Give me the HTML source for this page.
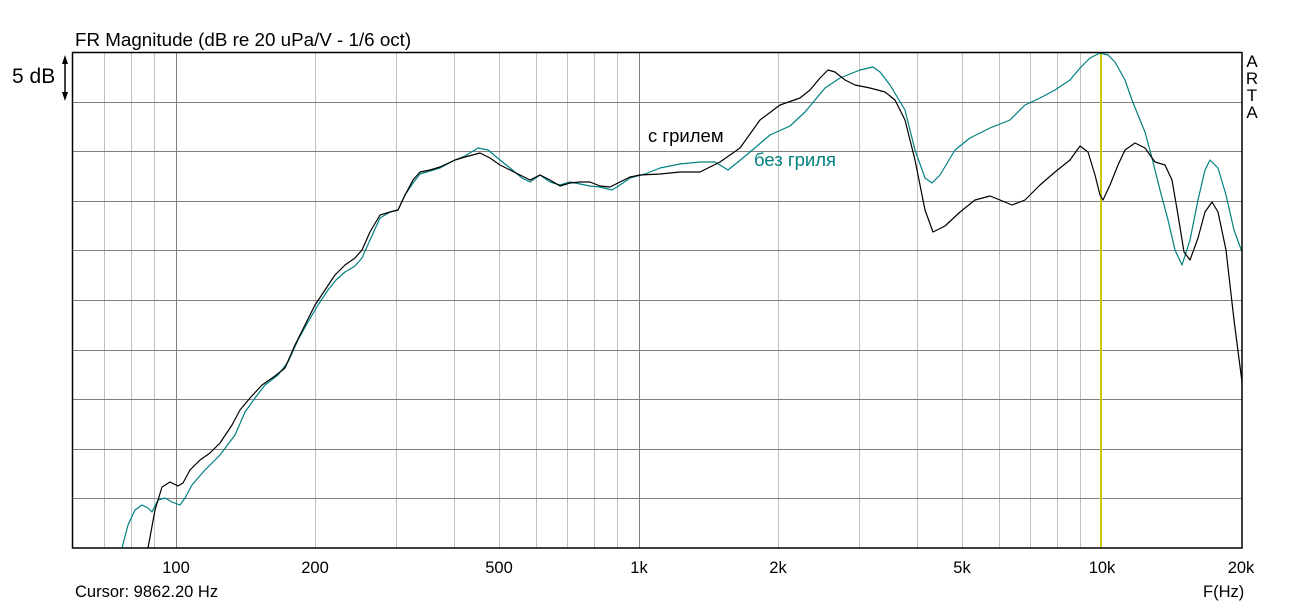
<!DOCTYPE html>
<html><head><meta charset="utf-8"><style>
html,body{margin:0;padding:0;background:#fff;}
svg{display:block;font-family:"Liberation Sans",sans-serif;}
</style></head><body>
<svg width="1314" height="605" viewBox="0 0 1314 605" xmlns="http://www.w3.org/2000/svg">
<rect width="1314" height="605" fill="#fff"/>
<g stroke="#c0c0c0" stroke-width="1">
<line x1="104.5" y1="53" x2="104.5" y2="548"/><line x1="131.5" y1="53" x2="131.5" y2="548"/><line x1="154.5" y1="53" x2="154.5" y2="548"/>
<line x1="315.5" y1="53" x2="315.5" y2="548"/><line x1="396.5" y1="53" x2="396.5" y2="548"/><line x1="454.5" y1="53" x2="454.5" y2="548"/>
<line x1="499.5" y1="53" x2="499.5" y2="548"/><line x1="536.5" y1="53" x2="536.5" y2="548"/><line x1="567.5" y1="53" x2="567.5" y2="548"/>
<line x1="594.5" y1="53" x2="594.5" y2="548"/><line x1="617.5" y1="53" x2="617.5" y2="548"/>
<line x1="778.5" y1="53" x2="778.5" y2="548"/><line x1="859.5" y1="53" x2="859.5" y2="548"/><line x1="917.5" y1="53" x2="917.5" y2="548"/>
<line x1="962.5" y1="53" x2="962.5" y2="548"/><line x1="999.5" y1="53" x2="999.5" y2="548"/><line x1="1030.5" y1="53" x2="1030.5" y2="548"/>
<line x1="1057.5" y1="53" x2="1057.5" y2="548"/><line x1="1080.5" y1="53" x2="1080.5" y2="548"/>
</g>
<g stroke="#808080" stroke-width="1">
<line x1="176.5" y1="53" x2="176.5" y2="548"/><line x1="639.5" y1="53" x2="639.5" y2="548"/>
<line x1="72" y1="102.5" x2="1242" y2="102.5"/><line x1="72" y1="151.5" x2="1242" y2="151.5"/>
<line x1="72" y1="201.5" x2="1242" y2="201.5"/><line x1="72" y1="250.5" x2="1242" y2="250.5"/>
<line x1="72" y1="300.5" x2="1242" y2="300.5"/><line x1="72" y1="350.5" x2="1242" y2="350.5"/>
<line x1="72" y1="399.5" x2="1242" y2="399.5"/><line x1="72" y1="449.5" x2="1242" y2="449.5"/>
<line x1="72" y1="498.5" x2="1242" y2="498.5"/>
</g>
<line x1="1101" y1="53" x2="1101" y2="548" stroke="#c8c800" stroke-width="2"/>
<polyline fill="none" stroke="#008080" stroke-width="1.2" stroke-linejoin="round" points="122,548 128,525 135,510 142,505 148,508 152,512 158,500 165,498 172,502 180,505 185,498 192,485 205,470 220,455 235,435 245,412 255,398 265,385 278,375 288,362 298,340 308,322 318,305 328,290 336,280 345,272 355,266 362,258 370,240 380,218 390,212 398,210 405,195 413,183 420,174 430,171 440,168 455,160 465,156 478,148 488,150 500,160 510,168 522,178 530,182 540,175 550,182 560,185 570,182 580,184 590,186 600,187 612,190 620,185 630,178 645,174 660,168 680,164 700,162 715,162 728,170 738,162 750,152 770,135 790,126 805,112 815,100 825,88 840,78 860,70 873,67 880,72 890,85 905,110 915,150 925,178 932,183 940,175 955,150 970,138 990,128 1010,120 1025,105 1040,98 1055,90 1070,80 1080,68 1090,58 1100,53 1108,55 1115,62 1125,80 1132,100 1138,115 1145,132 1152,158 1160,190 1168,220 1175,250 1182,265 1190,240 1198,200 1205,170 1210,160 1218,168 1226,195 1234,230 1242,252"/>
<polyline fill="none" stroke="#000" stroke-width="1.2" stroke-linejoin="round" points="148,548 155,510 162,487 170,482 178,486 183,483 190,470 200,460 210,453 220,443 232,425 240,410 250,398 262,385 275,376 285,368 295,345 305,325 315,305 325,290 335,275 345,265 355,258 362,250 370,232 380,215 390,212 398,210 405,195 413,180 420,172 430,170 440,167 455,160 465,157 480,153 490,158 500,165 510,170 520,175 530,180 540,175 550,180 560,186 570,183 580,182 590,182 600,186 610,187 620,182 630,177 640,175 660,174 680,172 700,172 720,162 740,148 760,120 780,105 800,98 810,90 820,78 828,70 835,72 845,80 855,85 870,88 885,92 895,100 905,120 915,160 925,210 933,232 945,226 960,212 975,200 990,196 1000,200 1012,205 1025,200 1040,185 1055,172 1070,160 1080,146 1088,152 1095,175 1100,195 1103,200 1110,185 1118,165 1125,150 1135,143 1145,148 1155,162 1165,165 1172,180 1178,215 1184,252 1190,260 1198,238 1205,212 1212,202 1218,212 1226,250 1234,320 1242,382"/>
<rect x="72.5" y="52.5" width="1169.5" height="495.5" fill="none" stroke="#000" stroke-width="1.5"/>
<text x="75" y="46" font-size="18.8">FR Magnitude (dB re 20 uPa/V - 1/6 oct)</text>
<text x="12" y="83" font-size="21">5 dB</text>
<line x1="65" y1="58" x2="65" y2="98" stroke="#000" stroke-width="1.5"/>
<polygon points="62,64 65,55 68,64" fill="#000"/><polygon points="62,92 65,101 68,92" fill="#000"/>
<g font-size="17" text-anchor="middle"><text x="1252" y="67">A</text><text x="1252" y="84">R</text><text x="1252" y="101">T</text><text x="1252" y="118">A</text></g>
<text x="648" y="142" font-size="18.5">с грилем</text>
<text x="754" y="166" font-size="18.5" fill="#008080">без гриля</text>
<g font-size="16.5" text-anchor="middle">
<text x="176" y="573">100</text><text x="315" y="573">200</text><text x="499" y="573">500</text>
<text x="639" y="573">1k</text><text x="778" y="573">2k</text><text x="962" y="573">5k</text>
<text x="1102" y="573">10k</text><text x="1241" y="573">20k</text>
</g>
<text x="75" y="597" font-size="16.5">Cursor: 9862.20 Hz</text>
<text x="1203" y="597" font-size="16.5">F(Hz)</text>
</svg>
</body></html>
